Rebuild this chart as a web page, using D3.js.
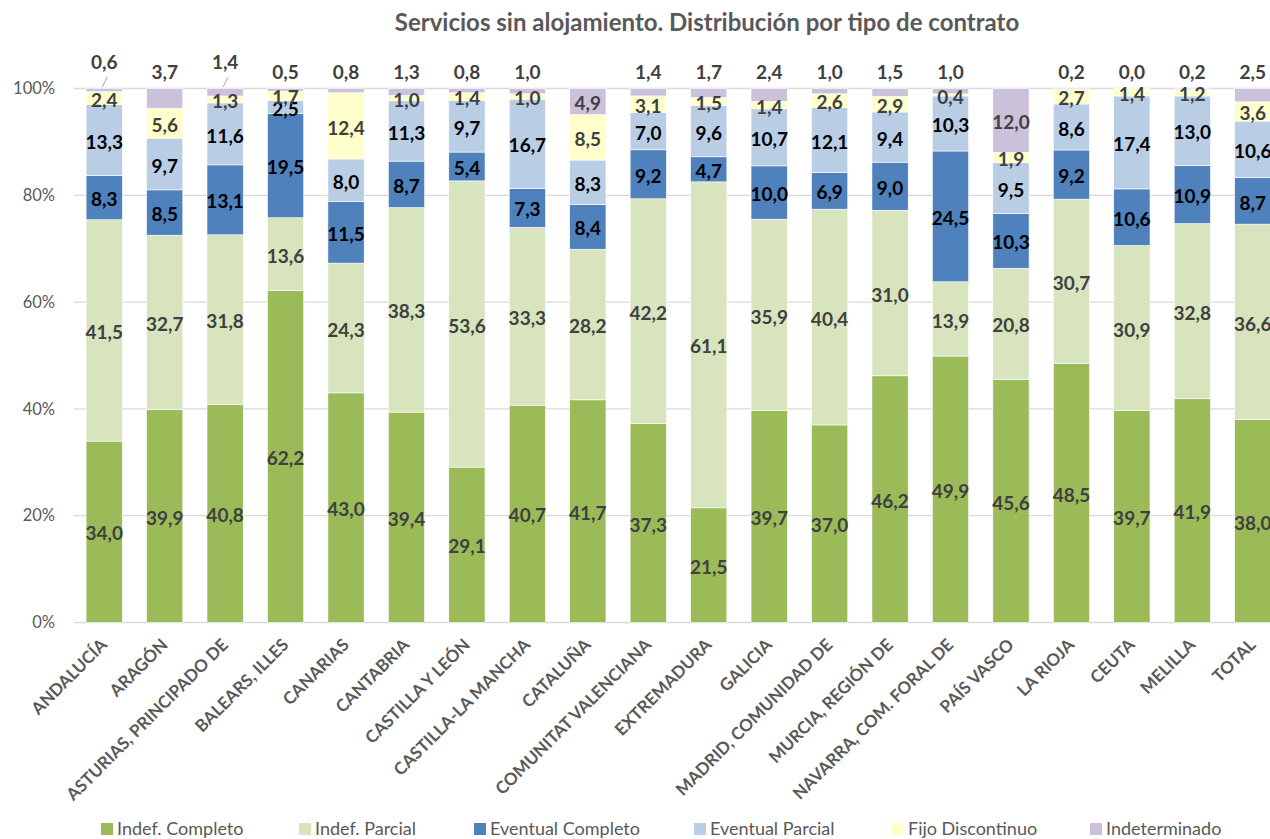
<!DOCTYPE html>
<html lang="es">
<head>
<meta charset="utf-8">
<script src="https://cdn.jsdelivr.net/npm/d3@7"></script>
<style>
  html, body { margin: 0; padding: 0; background: #fff; }
  svg { display: block; font-family: Lato, "Open Sans", sans-serif; }
</style>
</head>
<body>
<svg id="chart" width="1270" height="839"></svg>
<script>
// Regions (Comunidades Autónomas) plus national total
const categories = [
  "ANDALUCÍA", "ARAGÓN", "ASTURIAS, PRINCIPADO DE", "BALEARS, ILLES", "CANARIAS",
  "CANTABRIA", "CASTILLA Y LEÓN", "CASTILLA-LA MANCHA", "CATALUÑA", "COMUNITAT VALENCIANA",
  "EXTREMADURA", "GALICIA", "MADRID, COMUNIDAD DE", "MURCIA, REGIÓN DE", "NAVARRA, COM. FORAL DE",
  "PAÍS VASCO", "LA RIOJA", "CEUTA", "MELILLA", "TOTAL"
];

// Share of contracts (%) by contract type
const indefCompleto    = [34.0, 39.9, 40.8, 62.2, 43.0, 39.4, 29.1, 40.7, 41.7, 37.3, 21.5, 39.7, 37.0, 46.2, 49.9, 45.6, 48.5, 39.7, 41.9, 38.0];
const indefParcial     = [41.5, 32.7, 31.8, 13.6, 24.3, 38.3, 53.6, 33.3, 28.2, 42.2, 61.1, 35.9, 40.4, 31.0, 13.9, 20.8, 30.7, 30.9, 32.8, 36.6];
const eventualCompleto = [8.3, 8.5, 13.1, 19.5, 11.5, 8.7, 5.4, 7.3, 8.4, 9.2, 4.7, 10.0, 6.9, 9.0, 24.5, 10.3, 9.2, 10.6, 10.9, 8.7];
const eventualParcial  = [13.3, 9.7, 11.6, 2.5, 8.0, 11.3, 9.7, 16.7, 8.3, 7.0, 9.6, 10.7, 12.1, 9.4, 10.3, 9.5, 8.6, 17.4, 13.0, 10.6];
const fijoDiscontinuo  = [2.4, 5.6, 1.3, 1.7, 12.4, 1.0, 1.4, 1.0, 8.5, 3.1, 1.5, 1.4, 2.6, 2.9, 0.4, 1.9, 2.7, 1.4, 1.2, 3.6];
const indeterminado    = [0.6, 3.7, 1.4, 0.5, 0.8, 1.3, 0.8, 1.0, 4.9, 1.4, 1.7, 2.4, 1.0, 1.5, 1.0, 12.0, 0.2, 0.0, 0.2, 2.5];

const seriesNames = ["Indef. Completo", "Indef. Parcial", "Eventual Completo", "Eventual Parcial", "Fijo Discontinuo", "Indeterminado"];
const seriesValues = [indefCompleto, indefParcial, eventualCompleto, eventualParcial, fijoDiscontinuo, indeterminado];
const seriesColors = ["#9bbb59", "#d7e4bd", "#4f81bd", "#b9cde5", "#ffffcc", "#ccc1da"];
const labelColors  = ["#404040", "#404040", "#000000", "#000000", "#404040", "#404040"];
const yTicks = [0, 0.2, 0.4, 0.6, 0.8, 1.0];
// Bars whose top label sits higher with a leader line
const calloutCategories = ["ANDALUCÍA", "ASTURIAS, PRINCIPADO DE"];

const title = "Servicios sin alojamiento. Distribución por tipo de contrato";

const svg = d3.select("#chart");
const W = 1270, H = 839;
const margin = { left: 74, right: -13, top: 88.5, bottom: 216.5 };

const rows = categories.map((c, i) => {
  const r = { category: c };
  seriesNames.forEach((s, k) => { r[s] = seriesValues[k][i]; });
  return r;
});

// 100% stacked layout
const stacked = d3.stack().keys(seriesNames).offset(d3.stackOffsetExpand)(rows);

const x = d3.scaleBand().domain(categories)
  .range([margin.left, W - margin.right]).paddingInner(0.4).paddingOuter(0.2);
const y = d3.scaleLinear().domain([0, 1]).range([H - margin.bottom, margin.top]);

const locale = d3.formatLocale({ decimal: ",", thousands: ".", grouping: [3], currency: ["", "€"] });
const fmt = locale.format(".1f");
const pct = d3.format(".0%");

// Title
svg.append("text")
  .attr("x", 707).attr("y", 31)
  .attr("text-anchor", "middle")
  .attr("font-size", 24).attr("font-weight", "bold")
  .attr("fill", "#595959")
  .text(title);

// Gridlines
svg.append("g").selectAll("line").data(yTicks).join("line")
  .attr("x1", margin.left).attr("x2", W - margin.right)
  .attr("y1", d => y(d)).attr("y2", d => y(d))
  .attr("stroke", "#d9d9d9").attr("stroke-width", 1.3);

// Y axis labels
svg.append("g").selectAll("text").data(yTicks).join("text")
  .attr("x", 55).attr("y", d => y(d))
  .attr("dy", "0.35em")
  .attr("text-anchor", "end")
  .attr("font-size", 16.5).attr("fill", "#595959")
  .text(d => pct(d));

// Bars
const layers = svg.append("g").selectAll("g").data(stacked).join("g")
  .attr("fill", (d, i) => seriesColors[i]);

layers.selectAll("rect").data(d => d).join("rect")
  .attr("x", d => x(d.data.category))
  .attr("width", x.bandwidth())
  .attr("y", d => y(d[1]))
  .attr("height", d => Math.max(0, y(d[0]) - y(d[1])))
  .attr("stroke", "#ffffff").attr("stroke-width", 0.6);

// Value labels
const labelG = svg.append("g").attr("font-size", 19).attr("font-weight", "bold").attr("text-anchor", "middle");
stacked.forEach((layer, k) => {
  const isTop = k === stacked.length - 1;
  layer.forEach(d => {
    const cat = d.data.category;
    const v = d.data[seriesNames[k]];
    const cx = x(cat) + x.bandwidth() / 2;
    let cy = (y(d[0]) + y(d[1])) / 2 + 2;
    if (isTop && v < 4) {
      if (calloutCategories.includes(cat)) {
        cy = 62;
        labelG.append("line")
          .attr("x1", cx - 2).attr("y1", y(d[1]) - 1.5)
          .attr("x2", cx + 3).attr("y2", 77)
          .attr("stroke", "#a6a6a6").attr("stroke-width", 1);
      } else {
        cy = 72;
      }
    }
    labelG.append("text")
      .attr("x", cx).attr("y", cy).attr("dy", "0.35em")
      .attr("fill", labelColors[k])
      .text(fmt(v));
  });
});

// Category labels, rotated
svg.append("g").selectAll("text").data(categories).join("text")
  .attr("transform", d => `translate(${x(d) + x.bandwidth() / 2 + 4},${646}) rotate(-45)`)
  .attr("text-anchor", "end")
  .attr("font-size", 17).attr("font-weight", "bold")
  .attr("fill", "#595959")
  .text(d => d);

// Legend
const legendX = [101, 299, 474, 694, 892, 1090];
const legend = svg.append("g").selectAll("g").data(seriesNames).join("g")
  .attr("transform", (d, i) => `translate(${legendX[i]},823)`);
legend.append("rect").attr("width", 12).attr("height", 12)
  .attr("fill", (d, i) => seriesColors[i]);
legend.append("text").attr("x", 16).attr("y", 6).attr("dy", "0.35em")
  .attr("font-size", 18).attr("fill", "#595959")
  .text(d => d);
</script>
</body>
</html>
